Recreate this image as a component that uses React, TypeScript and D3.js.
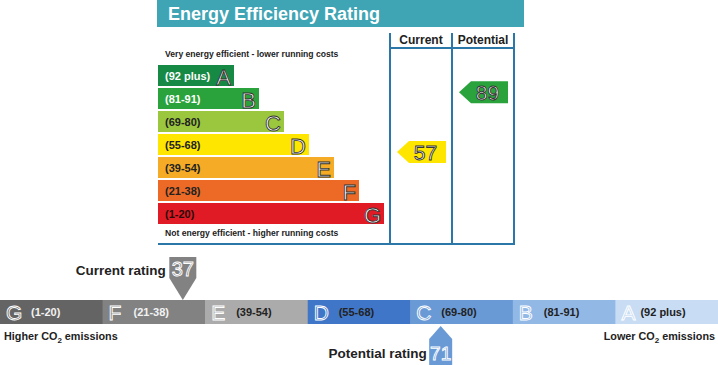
import React from 'react';
import * as d3 from 'd3';

// energy efficiency bands (top chart)
const effBands = ['A', 'B', 'C', 'D', 'E', 'F', 'G'];
const effRanges = ['(92 plus)', '(81-91)', '(69-80)', '(55-68)', '(39-54)', '(21-38)', '(1-20)'];
const effHighs = [100, 91, 80, 68, 54, 38, 20];
const effLows = [92, 81, 69, 55, 39, 21, 1];
const effColors = ['#168a45', '#2aa33c', '#9bc73f', '#ffe600', '#f5ab25', '#ec6a26', '#e11b25'];
const effLabelColors = ['#fff', '#fff', '#222', '#222', '#222', '#222', '#2a0a0a'];
const currentEff = 57;
const potentialEff = 89;

// CO2 bands (bottom bar)
const co2Bands = ['G', 'F', 'E', 'D', 'C', 'B', 'A'];
const co2Ranges = ['(1-20)', '(21-38)', '(39-54)', '(55-68)', '(69-80)', '(81-91)', '(92 plus)'];
const co2Lows = [1, 21, 39, 55, 69, 81, 92];
const co2Highs = [20, 38, 54, 68, 80, 91, 100];
const co2Colors = ['#646464', '#828282', '#ababab', '#4076c7', '#6a9ad6', '#92b8e6', '#c8dcf3'];
const co2LabelColors = ['#f2f2f2', '#f2f2f2', '#222', '#222', '#222', '#222', '#222'];
const currentCo2 = 37;
const potentialCo2 = 71;

const W = 718;
const H = 365;
const FONT = '"Liberation Sans", Arial, sans-serif';
const LINE = '#2b77a8';

const App = () => {
  // top chart scales
  const y = d3.scaleBand().domain(effBands).range([65, 224]).paddingInner(2 / 23);
  const barEnd = d3.scaleLinear().domain([0, effBands.length - 1]).range([234, 384]);
  const left = 158;
  const cols = { cur: [390, 452], pot: [452, 514] };

  const effIndex = (v) => effBands.findIndex((_, k) => v >= effLows[k]);
  const effY = (v) => {
    const i = effIndex(v);
    return y(effBands[i]) + ((effHighs[i] - v) / (effHighs[i] - effLows[i] + 1)) * y.step();
  };

  const arrow = (v, col, color) => {
    const c = effY(v);
    const [x0, x1] = col;
    const tip = x0 + 7;
    const body = x0 + 19;
    const right = x1 - 6;
    const pts = [[tip, c], [body, c - 11], [right, c - 11], [right, c + 11], [body, c + 11]];
    return (
      <g>
        <polygon points={pts.map((p) => p.join(',')).join(' ')} fill={color} />
        <text x={(body + right) / 2 - 2} y={c + 7.5} textAnchor="middle" fontSize={21}
          fill="#fff" stroke="#333" strokeWidth={0.9} fontFamily={FONT}>{v}</text>
      </g>
    );
  };

  // bottom bar scales
  const x = d3.scaleBand().domain(co2Bands).range([0, W]);
  // marker position inside its segment, kept away from the segment edges
  const co2X = (v) => {
    const i = co2Bands.findIndex((_, k) => v >= co2Lows[k] && v <= co2Highs[k]);
    const w = x.bandwidth();
    const inner = d3.scaleLinear().domain([co2Lows[i], co2Highs[i]])
      .range([x(co2Bands[i]) + w * 0.18, x(co2Bands[i]) + w * 0.82]);
    return inner(v);
  };

  const cx = co2X(currentCo2);
  const px = co2X(potentialCo2);
  const curPts = [[cx - 13.5, 257], [cx + 13.5, 257], [cx + 13.5, 278], [cx, 300], [cx - 13.5, 278]];
  const potPts = [[px, 326], [px + 11.5, 339], [px + 11.5, 366], [px - 11.5, 366], [px - 11.5, 339]];

  return (
    <svg width={W} height={H} style={{ position: 'absolute', left: 0, top: 0, background: '#fff' }}
      fontFamily={FONT}>
      {/* header */}
      <rect x={157} y={0} width={367} height={27} fill="#3fa5b5" />
      <text x={168} y={20} fill="#fff" fontSize={18} fontWeight="bold">Energy Efficiency Rating</text>

      {/* column frame */}
      <g stroke={LINE} strokeWidth={2}>
        <line x1={390} y1={33} x2={390} y2={244} />
        <line x1={452} y1={33} x2={452} y2={244} />
        <line x1={514} y1={33} x2={514} y2={244} />
        <line x1={390} y1={48} x2={514} y2={48} />
        <line x1={158} y1={244} x2={515} y2={244} />
      </g>
      <text x={421} y={44} textAnchor="middle" fontSize={12} fontWeight="bold" fill="#222">Current</text>
      <text x={483} y={44} textAnchor="middle" fontSize={12} fontWeight="bold" fill="#222">Potential</text>

      <text x={165} y={57} fontSize={8.6} fontWeight="bold" fill="#222">Very energy efficient - lower running costs</text>
      <text x={165} y={236} fontSize={8.6} fontWeight="bold" fill="#222">Not energy efficient - higher running costs</text>

      {effBands.map((b, i) => (
        <g key={b}>
          <rect x={left} y={y(b)} width={barEnd(i) - left} height={y.bandwidth()} fill={effColors[i]} />
          <text x={165} y={y(b) + 15} fontSize={11} fontWeight="bold" fill={effLabelColors[i]}>{effRanges[i]}</text>
          <text x={barEnd(i) - 3} y={y(b) + 19.5} textAnchor="end" fontSize={22}
            fill="#fff" stroke="#333" strokeWidth={0.9}>{b}</text>
        </g>
      ))}

      {arrow(currentEff, cols.cur, effColors[effIndex(currentEff)])}
      {arrow(potentialEff, cols.pot, effColors[effIndex(potentialEff)])}

      {/* CO2 bar */}
      {co2Bands.map((b, i) => (
        <g key={b}>
          <rect x={x(b)} y={300} width={x.bandwidth() + 0.5} height={24} fill={co2Colors[i]} />
          <text x={x(b) + 6} y={320} fontSize={21} fill="none" stroke="#fff" strokeWidth={0.9}>{b}</text>
          <text x={x(b) + (b === 'A' ? 25 : 31)} y={316} fontSize={11} fontWeight="bold"
            fill={co2LabelColors[i]}>{co2Ranges[i]}</text>
        </g>
      ))}

      <text x={4} y={340} fontSize={10.8} fontWeight="bold" fill="#222">
        Higher CO<tspan fontSize={8} dy={3}>2</tspan><tspan dy={-3}> emissions</tspan>
      </text>
      <text x={715} y={340} textAnchor="end" fontSize={10.8} fontWeight="bold" fill="#222">
        Lower CO<tspan fontSize={8} dy={3}>2</tspan><tspan dy={-3}> emissions</tspan>
      </text>

      {/* current marker */}
      <polygon points={curPts.map((p) => p.join(',')).join(' ')} fill="#828282" />
      <text x={cx} y={276} textAnchor="middle" fontSize={20} fill="none" stroke="#fff" strokeWidth={0.9}>{currentCo2}</text>
      <text x={cx - 17} y={275} textAnchor="end" fontSize={13.5} fontWeight="bold" fill="#222">Current rating</text>

      {/* potential marker */}
      <polygon points={potPts.map((p) => p.join(',')).join(' ')} fill="#6a9ad6" />
      <text x={px} y={360} textAnchor="middle" fontSize={19} fill="none" stroke="#fff" strokeWidth={0.9}>{potentialCo2}</text>
      <text x={px - 14} y={358} textAnchor="end" fontSize={13.5} fontWeight="bold" fill="#222">Potential rating</text>
    </svg>
  );
};

export default App;
